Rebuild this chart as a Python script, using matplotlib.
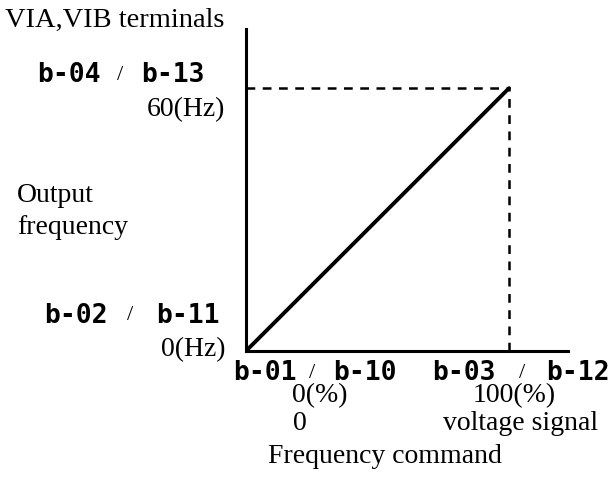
import matplotlib
matplotlib.use("Agg")
import matplotlib.pyplot as plt

# frequency command (%) -> output frequency (Hz)
cmd_pct = [0, 100]
out_hz = [0, 60]

# parameter codes shown on the keypad display
top_codes = ["b-04", "b-13"]
low_codes = ["b-02", "b-11"]
left_codes = ["b-01", "b-10"]
right_codes = ["b-03", "b-12"]

W, H = 613, 502
fig = plt.figure(figsize=(W / 100, H / 100), dpi=100)

def fx(x):
    return x / W

def fy(y):
    return 1 - y / H

# axes box in pixels: left 246, right 568, top 30, bottom 352
ax = fig.add_axes([fx(246), fy(352), (568 - 246) / W, (352 - 30) / H])
ax.set_xlim(0, 122.4)
ax.set_ylim(0, 73.5)
for s in ["top", "right"]:
    ax.spines[s].set_visible(False)
for s in ["left", "bottom"]:
    ax.spines[s].set_linewidth(2.2)
ax.set_xticks([])
ax.set_yticks([])
ax.patch.set_alpha(0)

ax.plot(cmd_pct, out_hz, color="black", lw=2.8, solid_capstyle="round")
ax.plot([0, cmd_pct[1]], [out_hz[1], out_hz[1]], color="black", lw=1.8,
        dashes=(3.5, 3))
ax.plot([cmd_pct[1], cmd_pct[1]], [0, out_hz[1]], color="black", lw=1.8,
        dashes=(3.5, 3))

serif = "Liberation Serif"
mono = "DejaVu Sans Mono"

def label(x, y, s, size=20, ha="left"):
    fig.text(fx(x), fy(y), s, family=serif, fontsize=size, ha=ha, va="center")

def code_pair(codes, x1, xs, x2, y):
    fig.text(fx(x1), fy(y), codes[0], family=mono, weight="bold", fontsize=19,
             ha="center", va="center")
    fig.text(fx(xs), fy(y), "/", family=serif, fontsize=16,
             ha="center", va="center")
    fig.text(fx(x2), fy(y), codes[1], family=mono, weight="bold", fontsize=19,
             ha="center", va="center")

label(5, 20, "VIA,VIB terminals", size=20.5)
code_pair(top_codes, 69, 120, 173, 75)
label(225, 110, "60(Hz)", ha="right")
label(17, 195, "Output")
label(17, 227, "frequency")
code_pair(low_codes, 76, 130, 188, 316)
label(225, 350, "0(Hz)", ha="right")
code_pair(left_codes, 265, 312, 365, 373)
code_pair(right_codes, 464, 522, 578, 373)
label(320, 396, "0(%)", ha="center")
label(514, 396, "100(%)", ha="center")
label(300, 424, "0", ha="center")
label(521, 424, "voltage signal", ha="center")
label(385, 457, "Frequency command", ha="center")

fig.savefig("out.png", dpi=100)
